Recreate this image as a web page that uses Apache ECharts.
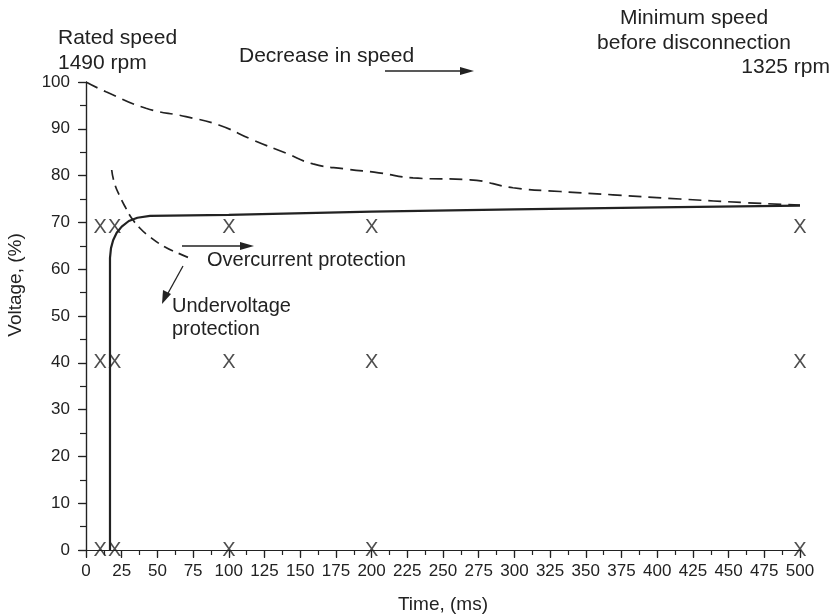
<!DOCTYPE html>
<html>
<head>
<meta charset="utf-8">
<script src="https://cdn.jsdelivr.net/npm/echarts@6/dist/echarts.min.js"></script>
<style>
  html, body { margin: 0; padding: 0; background: #fff; }
  #chart { width: 835px; height: 615px; }
</style>
</head>
<body>
<div id="chart"></div>
<script>
// speed decrease curve (dashed, top)
var speedTime = [0, 14, 42, 70, 93, 117, 140, 159, 182, 205, 229, 269, 299, 332, 369, 416, 463, 500];
var speedVolt = [100, 97.9, 94.4, 92.6, 90.8, 87.6, 84.8, 82.5, 81.4, 80.6, 79.5, 79.1, 77.4, 76.6, 75.9, 75.0, 74.2, 73.7];

// voltage recovery (solid)
var voltTime = [16.8, 16.8, 17.5, 19, 21.5, 25, 30, 36, 44.8, 100, 200, 300, 400, 500];
var voltValue = [0, 62.4, 64.5, 66.2, 67.8, 69.1, 70.3, 71.0, 71.4, 71.6, 72.3, 72.8, 73.2, 73.6];

// undervoltage protection curve (dashed, short)
var underTime = [18, 20, 23.8, 28, 32, 38, 44.8, 55, 64, 71.6];
var underVolt = [81.2, 78.3, 75.5, 73, 70.9, 68.7, 66.9, 64.8, 63.5, 62.5];

// X markers
var markTime = [10, 20, 100, 200, 500];
var markLevels = [0, 40, 69];

var xTicks = 25;
var yTicks = 10;

var font = 'Liberation Sans, Arial, sans-serif';
var ink = '#222';

function pairs(xs, ys) {
    var out = [];
    for (var i = 0; i < xs.length; i++) out.push([xs[i], ys[i]]);
    return out;
}

var marks = [];
markLevels.forEach(function (lv) {
    markTime.forEach(function (t) { marks.push([t, lv]); });
});

var myChart = echarts.init(document.getElementById('chart'));

var option = {
    backgroundColor: '#fff',
    animation: false,
    textStyle: { fontFamily: font },
    grid: { left: 86, right: 35, top: 82, bottom: 65, outerBoundsMode: 'none' },
    xAxis: [
        {
            type: 'value', min: 0, max: 500, interval: xTicks,
            name: 'Time, (ms)', nameLocation: 'middle', nameGap: 45,
            nameTextStyle: { fontSize: 19, color: ink, fontFamily: font },
            axisLine: { lineStyle: { color: ink, width: 1.2 } },
            axisTick: { inside: false, length: 7, lineStyle: { color: ink, width: 1.2 } },
            minorTick: { show: true, splitNumber: 2, length: 5, lineStyle: { color: ink, width: 1.2 } },
            axisLabel: { fontSize: 17, color: ink, margin: 13, fontFamily: font },
            splitLine: { show: false }
        },
        {
            type: 'value', min: 0, max: 500, interval: xTicks, position: 'top',
            axisLine: { show: true, lineStyle: { color: ink, width: 1.2 } },
            axisTick: { inside: true, length: 8, lineStyle: { color: ink, width: 1.2 } },
            axisLabel: { show: false },
            splitLine: { show: false }
        }
    ],
    yAxis: [
        {
            type: 'value', min: 0, max: 100, interval: yTicks,
            axisLine: { show: true, lineStyle: { color: ink, width: 1.2 } },
            axisTick: { inside: false, length: 8, lineStyle: { color: ink, width: 1.2 } },
            minorTick: { show: true, splitNumber: 2, length: 6, lineStyle: { color: ink, width: 1.2 } },
            axisLabel: { fontSize: 17, color: ink, margin: 16, fontFamily: font },
            splitLine: { show: false }
        },
        {
            type: 'value', min: 0, max: 100, interval: yTicks, position: 'right',
            axisLine: { show: true, lineStyle: { color: ink, width: 1.2 } },
            axisTick: { inside: true, length: 7, lineStyle: { color: ink, width: 1.2 } },
            axisLabel: { show: false },
            splitLine: { show: false }
        }
    ],
    series: [
        {
            name: 'speed', type: 'line', smooth: true, symbol: 'none',
            lineStyle: { color: ink, width: 1.7, type: [13, 7] },
            data: pairs(speedTime, speedVolt)
        },
        {
            name: 'voltage', type: 'line', smooth: false, symbol: 'none',
            lineStyle: { color: ink, width: 2.2 },
            data: pairs(voltTime, voltValue)
        },
        {
            name: 'undervoltage', type: 'line', smooth: true, symbol: 'none',
            lineStyle: { color: ink, width: 1.7, type: [10, 6] },
            data: pairs(underTime, underVolt)
        },
        {
            name: 'marks', type: 'scatter', symbolSize: 0.01, clip: false,
            itemStyle: { color: 'transparent' },
            label: {
                show: true, position: 'inside', formatter: 'X',
                fontSize: 20, color: ink, fontFamily: font
            },
            data: marks
        }
    ],
    graphic: [
        { type: 'text', x: 16, y: 285, rotation: Math.PI / 2,
          style: { text: 'Voltage, (%)', font: '19px ' + font, fill: ink, align: 'center', verticalAlign: 'middle' } },
        { type: 'text', x: 58, y: 26, style: { text: 'Rated speed\n1490 rpm', font: '21px ' + font, fill: ink, lineHeight: 25, verticalAlign: 'top' } },
        { type: 'text', x: 239, y: 46, style: { text: 'Decrease in speed', font: '21px ' + font, fill: ink, verticalAlign: 'top' } },
        { type: 'line', shape: { x1: 385, y1: 71, x2: 462, y2: 71 }, style: { stroke: ink, lineWidth: 1.3 } },
        { type: 'polygon', shape: { points: [[474, 71], [460, 67], [460, 75]] }, style: { fill: ink } },
        { type: 'text', x: 694, y: 6, style: { text: 'Minimum speed\nbefore disconnection', font: '21px ' + font, fill: ink, align: 'center', verticalAlign: 'top', lineHeight: 25 } },
        { type: 'text', x: 830, y: 57, style: { text: '1325 rpm', font: '21px ' + font, fill: ink, align: 'right', verticalAlign: 'top' } },
        { type: 'line', shape: { x1: 182, y1: 246, x2: 242, y2: 246 }, style: { stroke: ink, lineWidth: 1.3 } },
        { type: 'polygon', shape: { points: [[254, 246], [240, 242], [240, 250]] }, style: { fill: ink } },
        { type: 'text', x: 207, y: 250, style: { text: 'Overcurrent protection', font: '20px ' + font, fill: ink, verticalAlign: 'top' } },
        { type: 'line', shape: { x1: 183, y1: 266, x2: 167, y2: 295 }, style: { stroke: ink, lineWidth: 1.3 } },
        { type: 'polygon', shape: { points: [[162, 304], [163, 290], [171, 294]] }, style: { fill: ink } },
        { type: 'text', x: 172, y: 295, style: { text: 'Undervoltage\nprotection', font: '20px ' + font, fill: ink, lineHeight: 23, verticalAlign: 'top' } }
    ]
};

myChart.setOption(option);
</script>
</body>
</html>
